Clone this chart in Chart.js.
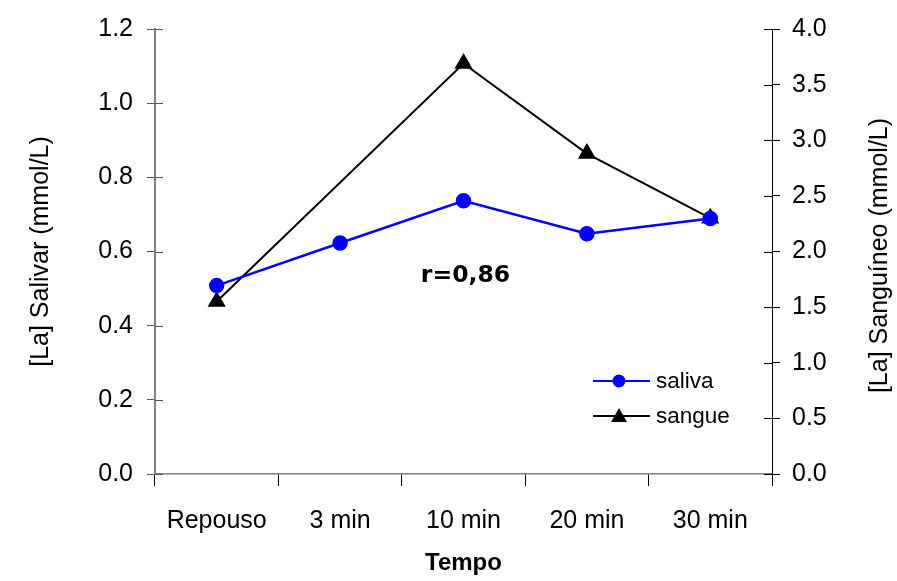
<!DOCTYPE html>
<html>
<head>
<meta charset="utf-8">
<script src="https://cdn.jsdelivr.net/npm/chart.js@4.4.1/dist/chart.umd.min.js"></script>
<style>
  html, body { margin: 0; padding: 0; background: #fff; }
  #wrap { width: 897px; height: 581px; }
</style>
</head>
<body>
<div id="wrap"><canvas id="chart" width="897" height="581"></canvas></div>
<script>
// data
const categories = ["Repouso", "3 min", "10 min", "20 min", "30 min"];
const salivaValues = [0.508, 0.623, 0.737, 0.648, 0.689];
const sangueValues = [1.55, null, 3.69, 2.88, 2.30];
const noteText = "r=0,86";
const rightTitle = "[La] Sanguíneo (mmol/L)";

const FONT = "'Liberation Sans', Arial, sans-serif";

// ticks that cross the y axes (Chart.js only draws them outside)
const innerTicks = {
  id: "innerTicks",
  afterDraw(chart) {
    const ctx = chart.ctx;
    ctx.save();
    ctx.lineWidth = 1;
    for (const id of ["y", "y1"]) {
      const s = chart.scales[id];
      const x = id === "y" ? s.right : s.left;
      const dir = id === "y" ? 1 : -1;
      ctx.strokeStyle = id === "y" ? "#555" : "#000";
      s.ticks.forEach((t, i) => {
        const y = Math.round(s.getPixelForTick(i)) + 0.5;
        ctx.beginPath();
        ctx.moveTo(x, y);
        ctx.lineTo(x + dir * 8, y);
        ctx.stroke();
      });
    }
    ctx.restore();
  }
};

// legend inside the plot, the correlation note and the right title
const extras = {
  id: "extras",
  afterDraw(chart) {
    const ctx = chart.ctx;
    const xs = chart.scales.x, ys = chart.scales.y;
    const area = chart.chartArea;
    ctx.save();
    ctx.font = "bold 23.5px 'DejaVu Sans', sans-serif";
    ctx.fillStyle = "#000";
    ctx.textAlign = "center";
    ctx.textBaseline = "middle";
    ctx.fillText(noteText, xs.getPixelForValue(2) + 2, ys.getPixelForValue(0.533));

    // right axis title, read bottom to top like the left one
    ctx.save();
    ctx.font = "25px " + FONT;
    ctx.translate(880, (area.top + area.bottom) / 2 + 4);
    ctx.rotate(-Math.PI / 2);
    ctx.fillText(rightTitle, 0, 0);
    ctx.restore();

    const items = [
      { label: "saliva", color: "#0000ff", shape: "circle", y: 381 },
      { label: "sangue", color: "#000000", shape: "triangle", y: 416 }
    ];
    ctx.font = "22.5px " + FONT;
    ctx.textAlign = "left";
    items.forEach(it => {
      ctx.strokeStyle = it.color;
      ctx.fillStyle = it.color;
      ctx.lineWidth = 2;
      ctx.beginPath();
      ctx.moveTo(593, it.y);
      ctx.lineTo(650, it.y);
      ctx.stroke();
      ctx.beginPath();
      if (it.shape === "circle") {
        ctx.arc(619, it.y, 6.5, 0, Math.PI * 2);
      } else {
        ctx.moveTo(619, it.y - 8);
        ctx.lineTo(627, it.y + 6);
        ctx.lineTo(611, it.y + 6);
        ctx.closePath();
      }
      ctx.fill();
      ctx.fillStyle = "#000";
      ctx.fillText(it.label, 656, it.y + 1);
    });
    ctx.restore();
  }
};

new Chart(document.getElementById("chart"), {
  type: "line",
  data: {
    labels: categories,
    datasets: [
      {
        label: "saliva",
        data: salivaValues,
        yAxisID: "y",
        borderColor: "#0000ff",
        backgroundColor: "#0000ff",
        borderWidth: 2.5,
        pointStyle: "circle",
        pointRadius: 6.5,
        pointHoverRadius: 6.5,
        tension: 0
      },
      {
        label: "sangue",
        data: sangueValues,
        yAxisID: "y1",
        borderColor: "#000000",
        backgroundColor: "#000000",
        borderWidth: 2,
        pointStyle: "triangle",
        pointRadius: 8.5,
        pointHoverRadius: 8.5,
        spanGaps: true,
        tension: 0
      }
    ]
  },
  options: {
    responsive: false,
    animation: false,
    layout: { padding: { top: 28, left: 0, right: 0, bottom: 0 } },
    plugins: {
      legend: { display: false },
      tooltip: { enabled: false }
    },
    scales: {
      x: {
        offset: true,
        grid: { offset: true, drawOnChartArea: false, tickLength: 12, color: "#000" },
        border: { color: "#808080", width: 1.5 },
        ticks: { font: { family: FONT, size: 25 }, color: "#000", padding: 20, maxRotation: 0, autoSkip: false },
        title: { display: true, text: "Tempo", font: { family: FONT, size: 24, weight: "bold" }, color: "#000", padding: { top: 4, bottom: 3 } },
        afterFit: s => { s.height = 107; }
      },
      y: {
        position: "left",
        min: 0, max: 1.2,
        grid: { drawOnChartArea: false, tickLength: 8, color: "#555" },
        border: { color: "#808080", width: 2 },
        ticks: { stepSize: 0.2, font: { family: FONT, size: 25 }, color: "#000", padding: 14, callback: v => v.toFixed(1) },
        title: { display: true, text: "[La] Salivar (mmol/L)", font: { family: FONT, size: 25 }, color: "#000", padding: { top: 26, bottom: 0 } },
        afterFit: s => { s.width = 155; }
      },
      y1: {
        position: "right",
        min: 0, max: 4,
        grid: { drawOnChartArea: false, tickLength: 8, color: "#000" },
        border: { color: "#000", width: 1 },
        ticks: { stepSize: 0.5, font: { family: FONT, size: 25 }, color: "#000", padding: 12, callback: v => v.toFixed(1) },
        title: { display: false },
        afterFit: s => { s.width = 125; }
      }
    }
  },
  plugins: [innerTicks, extras]
});
</script>
</body>
</html>
